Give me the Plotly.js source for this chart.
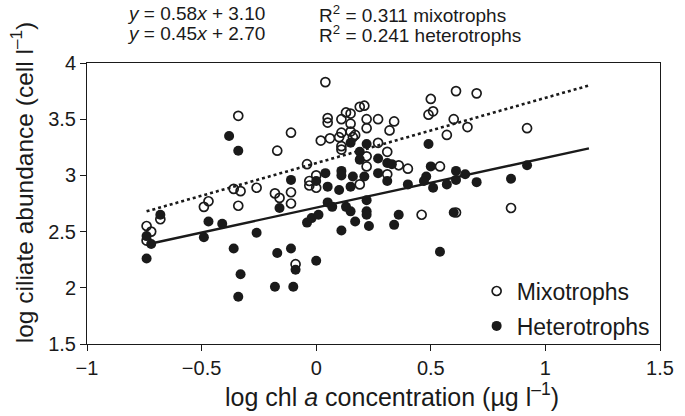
<!DOCTYPE html>
<html>
<head>
<meta charset="utf-8">
<script src="https://cdn.plot.ly/plotly-3.0.1.min.js"></script>
<style>html,body{margin:0;padding:0;background:#fff;}#chart{width:685px;height:416px;}</style>
</head>
<body>
<div id="chart"></div>
<script>
// Mixotrophs (open circles)
const mixoX = [0.04, -0.34, -0.11, -0.17, -0.04, 0.00, -0.03, 0.00, -0.36, -0.33,
               -0.26, -0.18, -0.11, 0.05, 0.05, 0.02, 0.06, 0.11, 0.13, 0.15,
               0.15, 0.11, 0.15, 0.17, 0.10, 0.11, 0.11, 0.16, 0.19, 0.21,
               0.19, 0.61, 0.70, 0.50, 0.49, 0.51, 0.22, 0.27, 0.34, 0.22,
               0.32, 0.22, 0.27, 0.31, 0.22, 0.36, 0.40, 0.54, 0.57, 0.60,
               0.66, 0.92, 0.31, -0.74, -0.72, -0.74, -0.68, -0.49, -0.47, -0.34,
               -0.16, -0.11, -0.09, 0.61, 0.46, 0.85, -0.03];
const mixoY = [3.83, 3.53, 3.38, 3.22, 3.10, 3.00, 2.91, 2.89, 2.88, 2.86,
               2.89, 2.84, 2.85, 3.51, 3.47, 3.31, 3.33, 3.50, 3.56, 3.55,
               3.46, 3.38, 3.39, 3.36, 3.34, 3.26, 3.23, 3.34, 3.61, 3.62,
               2.92, 3.75, 3.73, 3.68, 3.54, 3.57, 3.50, 3.50, 3.48, 3.42,
               3.40, 3.17, 3.29, 3.21, 3.08, 3.09, 3.06, 3.08, 3.36, 3.50,
               3.43, 3.42, 3.01, 2.55, 2.50, 2.42, 2.61, 2.72, 2.77, 2.73,
               2.80, 2.75, 2.21, 2.67, 2.65, 2.71, 2.95];
// Heterotrophs (filled circles)
const heteroX = [-0.38, -0.34, -0.11, 0.04, 0.00, 0.05, 0.10, 0.15, 0.11, 0.11,
                 0.16, 0.15, 0.19, 0.19, 0.22, 0.27, 0.31, 0.33, 0.49, 0.50,
                 0.61, 0.65, 0.48, 0.47, 0.40, 0.51, 0.57, 0.61, 0.70, 0.85,
                 0.92, 0.21, 0.27, 0.31, -0.74, -0.72, -0.74, -0.68, -0.49, -0.47,
                 -0.41, -0.36, -0.33, -0.34, -0.26, -0.17, -0.18, -0.11, -0.10, -0.09,
                 0.00, -0.16, -0.04, -0.02, 0.01, 0.05, 0.07, 0.13, 0.15, 0.11,
                 0.17, 0.54, 0.22, 0.22, 0.22, 0.23, 0.34, 0.36, 0.60];
const heteroY = [3.35, 3.22, 2.96, 3.02, 2.95, 2.90, 2.87, 2.90, 3.04, 3.00,
                 2.99, 3.29, 3.21, 3.14, 3.28, 3.15, 3.11, 3.10, 3.28, 3.08,
                 3.04, 3.01, 2.99, 2.95, 2.92, 2.89, 2.92, 2.96, 2.94, 2.97,
                 3.09, 2.99, 3.02, 2.95, 2.46, 2.39, 2.26, 2.65, 2.45, 2.59,
                 2.57, 2.35, 2.12, 1.92, 2.49, 2.31, 2.01, 2.35, 2.01, 2.16,
                 2.24, 2.71, 2.58, 2.62, 2.65, 2.76, 2.72, 2.72, 2.68, 2.51,
                 2.59, 2.32, 2.78, 2.68, 2.65, 2.55, 2.56, 2.65, 2.67];
// Regression lines (endpoints)
const mixoLineX = [-0.74, 1.19];
const mixoLineY = [2.68, 3.80];
const heteroLineX = [-0.73, 1.19];
const heteroLineY = [2.39, 3.24];
// Labels
const seriesNames = ["Mixotrophs", "Heterotrophs"];
const xTickVals = [-1, -0.5, 0, 0.5, 1, 1.5];
const yTickVals = [1.5, 2, 2.5, 3, 3.5, 4];

const FONT = "Liberation Sans, Arial, Helvetica, sans-serif";
const INK = "#1a1a1a";

const traces = [
  {x: mixoLineX, y: mixoLineY, mode: "lines", showlegend: false, hoverinfo: "skip",
   line: {color: INK, width: 2.6, dash: "dot"}},
  {x: heteroLineX, y: heteroLineY, mode: "lines", showlegend: false, hoverinfo: "skip",
   line: {color: INK, width: 2.4}},
  {x: mixoX, y: mixoY, mode: "markers", name: seriesNames[0], legendgroup: "a",
   marker: {symbol: "circle-open", size: 9, color: INK, line: {width: 1.7, color: INK}}},
  {x: heteroX, y: heteroY, mode: "markers", name: seriesNames[1], legendgroup: "b",
   marker: {symbol: "circle", size: 10, color: INK}}
];

const layout = {
  width: 685, height: 416,
  margin: {l: 87, r: 25, t: 63, b: 72, pad: 0},
  paper_bgcolor: "#fff", plot_bgcolor: "#fff",
  font: {family: FONT, color: INK, size: 20},
  showlegend: true,
  legend: {x: 0.68, xanchor: "left", y: 0.265, yanchor: "top",
           font: {size: 23, family: FONT, color: INK}, bgcolor: "rgba(0,0,0,0)",
           traceorder: "grouped", tracegroupgap: 2, itemwidth: 30},
  xaxis: {range: [-1, 1.5], tickvals: xTickVals, ticks: "outside", ticklen: 6, tickwidth: 1,
          tickcolor: INK, showline: true, linecolor: INK, linewidth: 1, mirror: true,
          showgrid: false, zeroline: false, tickfont: {size: 20}},
  yaxis: {range: [1.5, 4], tickvals: yTickVals, ticks: "outside", ticklen: 6, tickwidth: 1,
          tickcolor: INK, showline: true, linecolor: INK, linewidth: 1, mirror: true,
          showgrid: false, zeroline: false, tickfont: {size: 20}},
  annotations: [
    {text: "log chl <i>a</i> concentration (µg l<sup>–1</sup>)", xref: "paper", yref: "paper",
     x: 0.532, y: -0.18, xanchor: "center", yanchor: "middle", showarrow: false, font: {size: 25}},
    {text: "log ciliate abundance (cell l<sup>–1</sup>)", xref: "paper", yref: "paper",
     x: -0.113, y: 0.573, xanchor: "center", yanchor: "middle", textangle: -90, showarrow: false,
     font: {size: 24.5}},
    {text: "<i>y</i> = 0.58<i>x</i> + 3.10", xref: "paper", yref: "paper", x: 0.066, y: 1.175,
     xanchor: "left", yanchor: "middle", showarrow: false, font: {size: 19}},
    {text: "<i>y</i> = 0.45<i>x</i> + 2.70", xref: "paper", yref: "paper", x: 0.066, y: 1.104,
     xanchor: "left", yanchor: "middle", showarrow: false, font: {size: 19}},
    {text: "R<sup>2</sup> = 0.311 mixotrophs", xref: "paper", yref: "paper", x: 0.401, y: 1.175,
     xanchor: "left", yanchor: "middle", showarrow: false, font: {size: 19}},
    {text: "R<sup>2</sup> = 0.241 heterotrophs", xref: "paper", yref: "paper", x: 0.401, y: 1.104,
     xanchor: "left", yanchor: "middle", showarrow: false, font: {size: 19}}
  ]
};

Plotly.newPlot("chart", traces, layout, {staticPlot: true, displayModeBar: false});
</script>
</body>
</html>
